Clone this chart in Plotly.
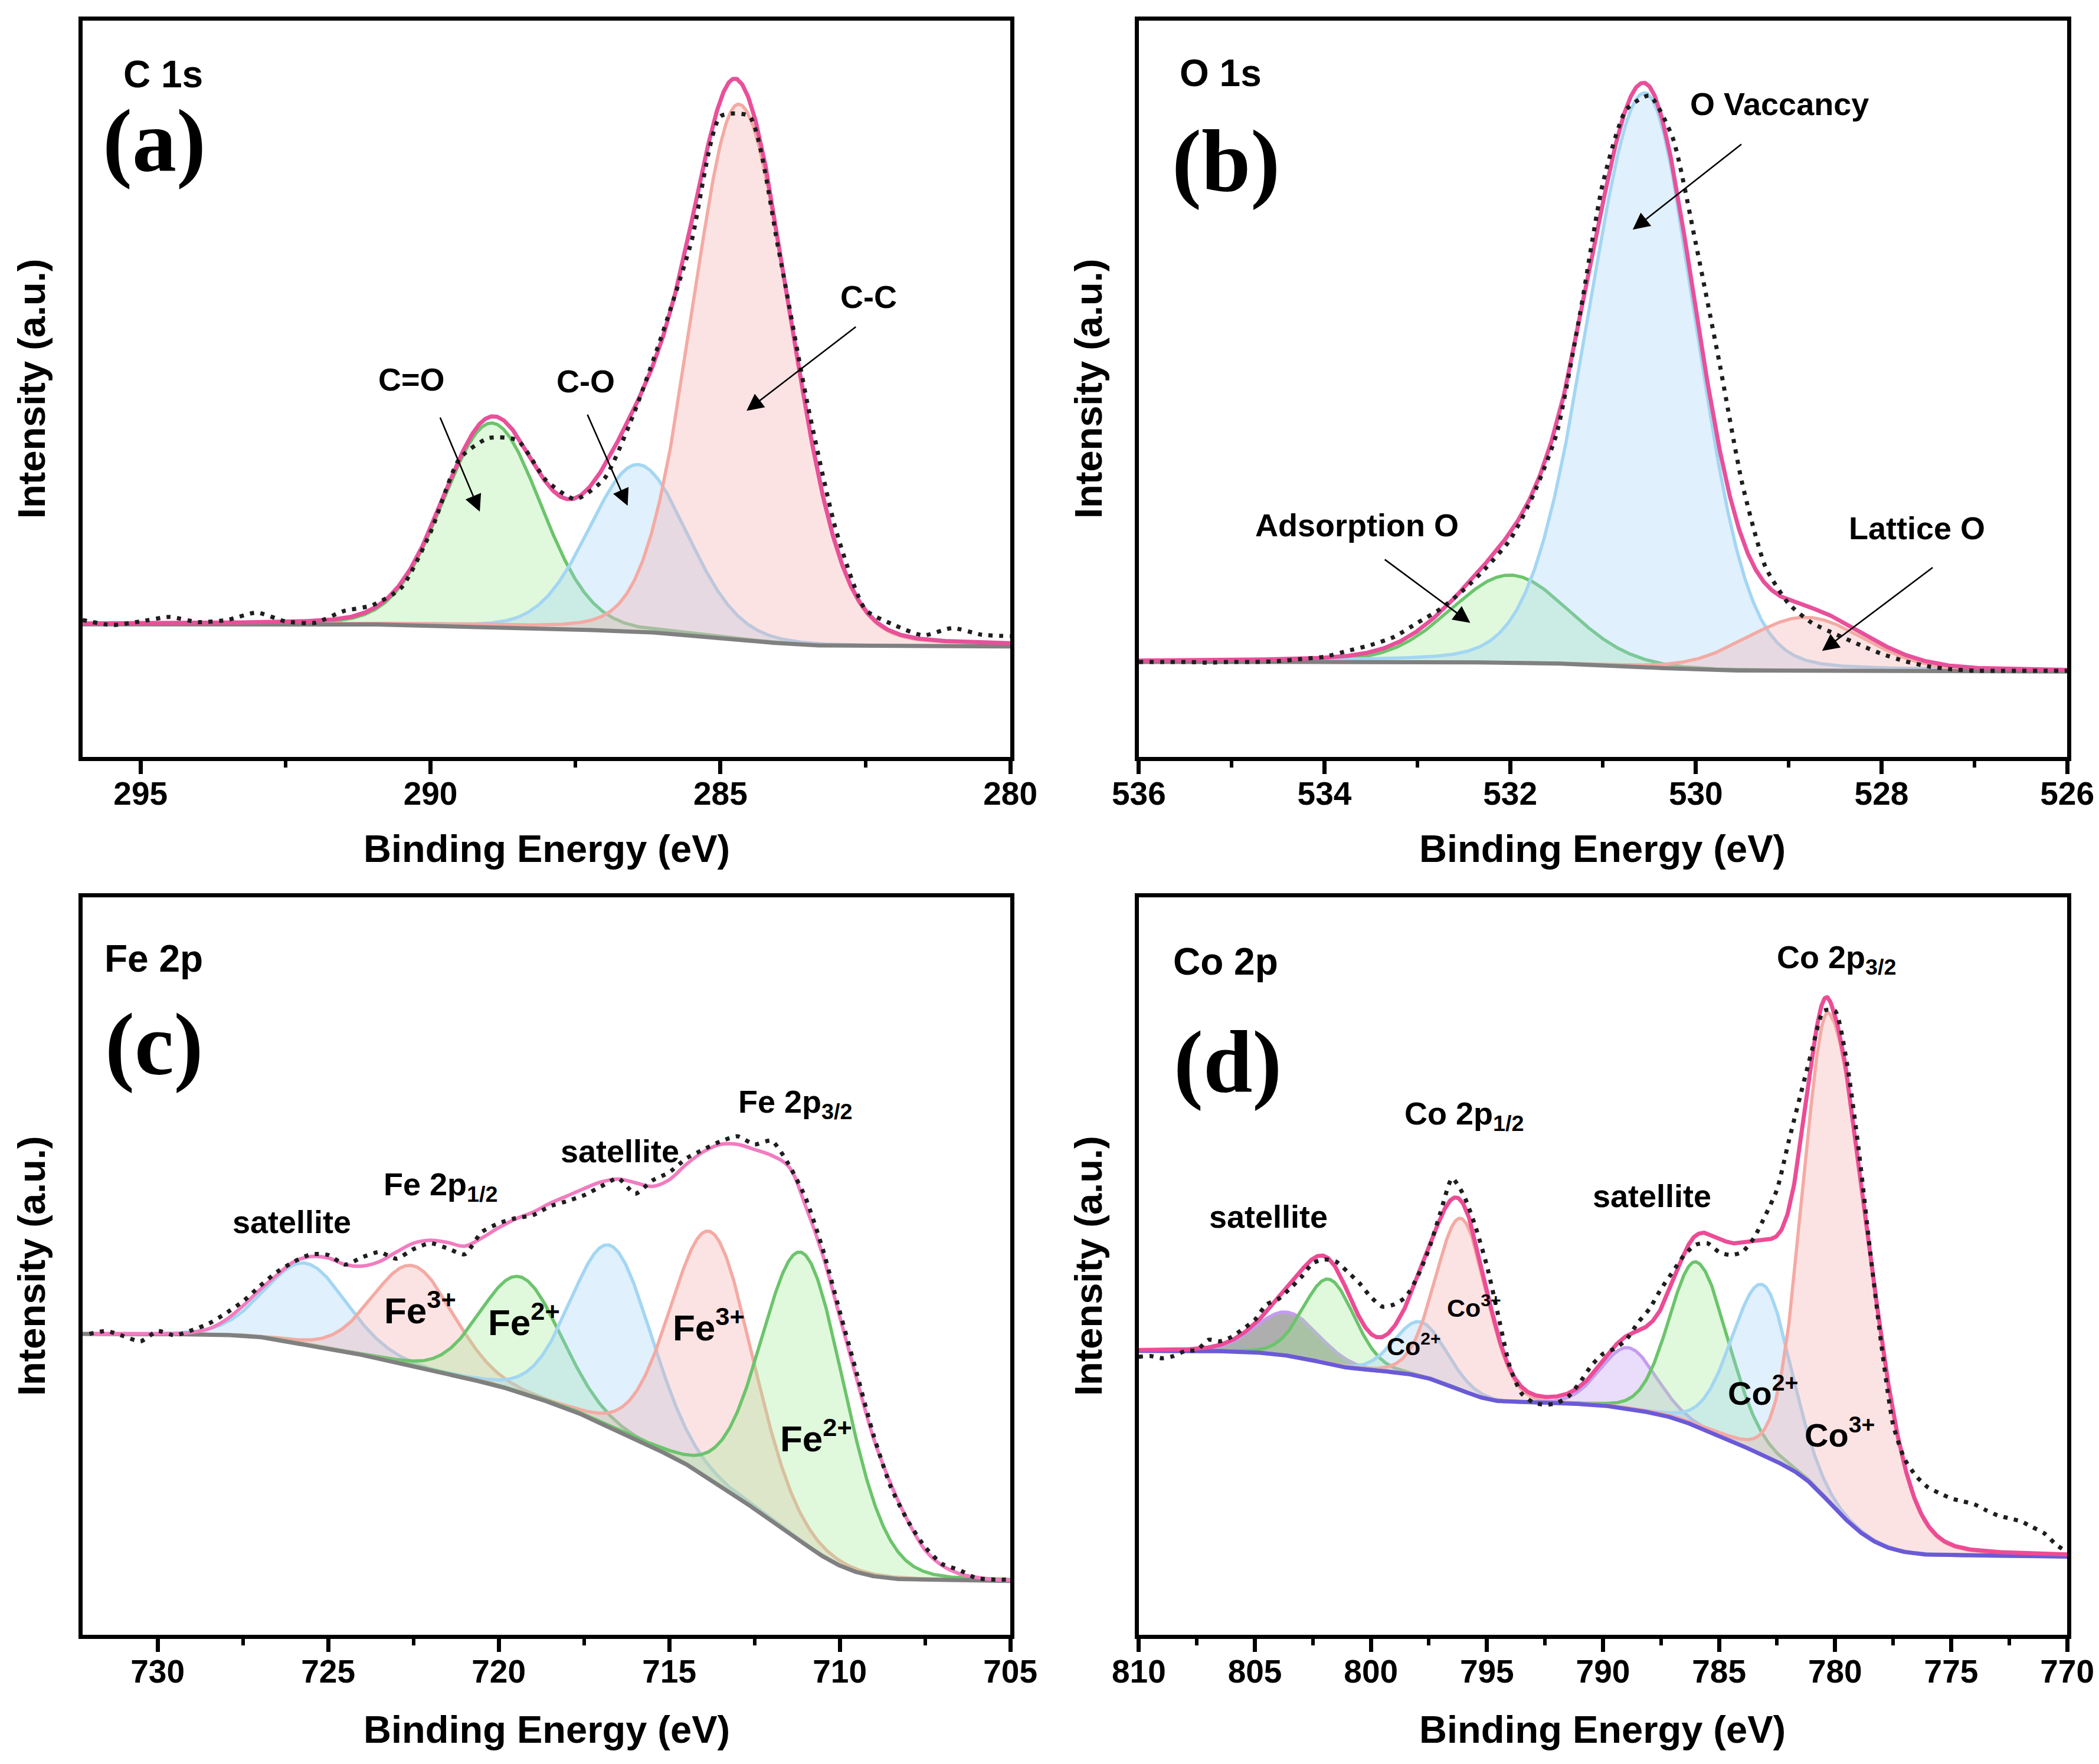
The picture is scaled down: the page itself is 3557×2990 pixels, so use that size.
import numpy as np
import plotly.graph_objects as go

FIG_W, FIG_H = 3557, 2990

# ===================== Panel (a) C 1s =====================
a_be = [296.0, 295.5, 295.0, 294.5, 294.0, 293.5, 293.0, 292.5, 292.0, 291.5,
        291.0, 290.5, 290.0, 289.5, 289.0, 288.5, 288.0, 287.5, 287.0, 286.5,
        286.0, 285.5, 285.0, 284.5, 284.0, 283.5, 283.0, 282.5, 282.0, 281.5,
        281.0, 280.5, 280.0]
a_counts = [18.6, 17.9, 18.4, 19.0, 18.3, 18.6, 19.6, 18.4, 18.2, 19.8,
            20.6, 23.0, 30.5, 40.5, 43.3, 43.0, 37.5, 35.0, 37.8, 46.5,
            57.5, 70.0, 87.0, 87.0, 69.0, 48.0, 30.6, 20.0, 17.9, 16.5,
            17.5, 16.6, 16.4]
a_peak_label = ["C=O", "C-O", "C-C"]
a_peak_center = [288.94, 286.42, 284.68]
a_peak_height = [27.7, 22.7, 72.7]
a_peak_hwhm_high = [1.0, 1.0, 0.95]
a_peak_hwhm_low = [1.0, 1.0, 1.05]
a_bg_levels = [18.0, 15.0]          # high-BE end, low-BE end

# ===================== Panel (b) O 1s =====================
b_be = [536.0, 535.75, 535.5, 535.25, 535.0, 534.75, 534.5, 534.25, 534.0, 533.75,
        533.5, 533.25, 533.0, 532.75, 532.5, 532.25, 532.0, 531.75, 531.5, 531.25,
        531.0, 530.75, 530.5, 530.25, 530.0, 529.75, 529.5, 529.25, 529.0, 528.75,
        528.5, 528.25, 528.0, 527.75, 527.5, 527.25, 527.0, 526.75, 526.5, 526.25,
        526.0]
b_counts = [12.9, 12.9, 12.9, 12.8, 12.9, 12.9, 13.0, 13.3, 13.6, 14.4,
            15.2, 16.3, 18.2, 20.1, 22.7, 25.8, 29.5, 35.6, 43.9, 60.0,
            78.0, 87.9, 89.8, 84.1, 69.7, 53.8, 37.1, 25.8, 20.8, 18.2,
            16.7, 15.3, 14.0, 13.0, 12.3, 11.9, 11.7, 11.7, 11.7, 11.7,
            11.7]
b_peak_label = ["Adsorption O", "O Vaccancy", "Lattice O"]
b_peak_center = [532.0, 530.55, 528.82]
b_peak_height = [11.9, 78.0, 7.3]
b_peak_hwhm_high = [0.75, 0.72, 0.75]
b_peak_hwhm_low = [0.75, 0.65, 0.75]
b_bg_levels = [12.9, 11.6]

# ===================== Panel (c) Fe 2p =====================
c_be = [732.0, 731.5, 731.0, 730.5, 730.0, 729.5, 729.0, 728.5, 728.0, 727.5,
        727.0, 726.5, 726.0, 725.5, 725.0, 724.5, 724.0, 723.5, 723.0, 722.5,
        722.0, 721.5, 721.0, 720.5, 720.0, 719.5, 719.0, 718.5, 718.0, 717.5,
        717.0, 716.5, 716.0, 715.5, 715.0, 714.5, 714.0, 713.5, 713.0, 712.5,
        712.0, 711.5, 711.0, 710.5, 710.0, 709.5, 709.0, 708.5, 708.0, 707.5,
        707.0, 706.5, 706.0, 705.5, 705.0]
c_counts = [40.8, 41.2, 40.5, 39.8, 41.2, 40.6, 41.3, 42.2, 43.6, 45.2,
            47.3, 49.2, 50.6, 51.6, 51.5, 50.2, 51.2, 51.9, 51.0, 52.3,
            53.1, 52.4, 51.6, 54.6, 55.8, 56.5, 56.9, 58.1, 58.8, 59.6,
            60.8, 61.9, 59.8, 61.6, 62.7, 64.6, 65.8, 66.9, 67.6, 66.5,
            67.0, 63.8, 59.2, 52.3, 43.8, 35.4, 26.9, 20.0, 15.4, 11.9,
            9.6, 8.8, 7.7, 7.5, 7.5]
c_envelope = [40.8, 40.8, 40.8, 40.8, 40.8, 40.8, 41.0, 41.5, 42.7, 44.6,
              46.8, 48.8, 50.6, 51.3, 51.1, 50.2, 50.0, 50.6, 51.9, 53.1,
              53.5, 53.2, 52.7, 53.8, 55.2, 56.4, 57.3, 58.5, 59.5, 60.5,
              61.4, 61.8, 61.3, 60.8, 61.7, 63.8, 65.5, 66.5, 66.5, 65.8,
              65.0, 63.5, 58.1, 51.5, 43.1, 34.6, 26.5, 20.4, 15.4, 11.5,
              9.4, 8.3, 7.8, 7.5, 7.4]
c_peak_label = ["satellite", "Fe3+", "Fe2+", "satellite", "Fe3+", "Fe2+"]
c_peak_center = [725.64, 722.5, 719.35, 716.7, 713.75, 711.06]
c_peak_height = [11.0, 13.6, 15.7, 24.7, 33.6, 39.3]
c_peak_hwhm_high = [1.4, 1.4, 1.4, 1.4, 1.42, 1.45]
c_peak_hwhm_low = [1.4, 1.4, 1.4, 1.4, 1.42, 1.45]
c_bg_levels = [40.8, 7.3]

# ===================== Panel (d) Co 2p =====================
d_be = [810.0, 809.5, 809.0, 808.5, 808.0, 807.5, 807.0, 806.5, 806.0, 805.5,
        805.0, 804.5, 804.0, 803.5, 803.0, 802.5, 802.0, 801.5, 801.0, 800.5,
        800.0, 799.5, 799.0, 798.5, 798.0, 797.5, 797.0, 796.5, 796.0, 795.5,
        795.0, 794.5, 794.0, 793.5, 793.0, 792.5, 792.0, 791.5, 791.0, 790.5,
        790.0, 789.5, 789.0, 788.5, 788.0, 787.5, 787.0, 786.5, 786.0, 785.5,
        785.0, 784.5, 784.0, 783.5, 783.0, 782.5, 782.0, 781.5, 781.0, 780.5,
        780.0, 779.5, 779.0, 778.5, 778.0, 777.5, 777.0, 776.5, 776.0, 775.5,
        775.0, 774.5, 774.0, 773.5, 773.0, 772.5, 772.0, 771.5, 771.0, 770.5,
        770.0]
d_counts = [37.7, 37.8, 37.5, 37.8, 38.5, 38.6, 40.0, 39.8, 40.4, 41.5,
            42.7, 44.8, 45.5, 46.9, 48.5, 50.4, 50.9, 50.6, 49.2, 47.7,
            45.8, 44.5, 44.8, 45.8, 48.5, 52.3, 57.3, 61.9, 59.6, 55.4,
            50.0, 43.1, 36.2, 32.7, 31.5, 31.2, 31.4, 32.3, 34.2, 36.5,
            38.1, 38.8, 40.0, 42.3, 44.2, 46.9, 49.2, 51.5, 52.9, 53.1,
            51.9, 51.5, 51.9, 53.8, 56.9, 60.4, 66.9, 73.1, 79.2, 84.6,
            84.6, 77.7, 66.2, 52.3, 39.2, 28.5, 23.8, 21.5, 20.0, 19.2,
            18.5, 18.1, 17.7, 16.9, 16.2, 15.8, 15.4, 14.6, 13.8, 12.3,
            11.2]
d_peak_label = ["satellite", "satellite", "Co2+", "Co3+", "satellite", "satellite", "Co2+", "Co3+"]
d_peak_center = [803.6, 801.8, 797.86, 796.1, 788.9, 785.95, 783.1, 780.25]
d_peak_height = [5.9, 11.5, 7.4, 23.3, 8.3, 22.3, 23.1, 66.3]
d_peak_hwhm_high = [1.6, 1.3, 1.3, 1.3, 1.4, 1.4, 1.6, 1.3]
d_peak_hwhm_low = [1.6, 1.3, 1.3, 1.3, 1.4, 1.6, 1.4, 2.0]
d_bg_levels = [38.5, 10.6]

# ===================== styles =====================
LINE = {
    "green": "#6cc46c", "blue": "#a3d6f3", "red": "#f4aaa4",
    "violet": "#c39cf0", "greyviolet": "#c39cf0",
}
FILL = {
    "green": "rgba(160,238,150,0.33)", "blue": "rgba(160,210,245,0.33)",
    "red": "rgba(245,170,170,0.33)", "violet": "rgba(200,170,245,0.40)",
    "greyviolet": "rgba(120,120,120,0.60)",
}
FONT = "Liberation Sans, Arial, sans-serif"
SERIF = "Liberation Serif, Times New Roman, serif"


def peak_shape(x, center, height, hw_high, hw_low, eta=0.1):
    hw = np.where(x >= center, hw_high, hw_low)
    t = (x - center) / hw
    g = np.exp(-np.log(2) * t ** 2)
    l = 1.0 / (1.0 + t ** 2)
    return height * ((1 - eta) * g + eta * l)


def shirley(xs, peaks_total, level_high, level_low):
    inc = (peaks_total[1:] + peaks_total[:-1]) / 2 * np.diff(xs)
    cum = np.concatenate([[0.0], np.cumsum(inc)])
    return level_low + (level_high - level_low) * cum / cum[-1]


panels = [
    dict(n="", be=a_be, counts=a_counts, env=None, c=a_peak_center, h=a_peak_height,
         hh=a_peak_hwhm_high, hl=a_peak_hwhm_low, bg=a_bg_levels,
         colors=["green", "blue", "red"], xr=[296.0, 280.0], dtick=5, minor=2.5,
         env_color="#e8509a", bg_color="#808080",
         xdom=[0.0371, 0.4791], ydom=[0.5736, 0.9910]),
    dict(n="2", be=b_be, counts=b_counts, env=None, c=b_peak_center, h=b_peak_height,
         hh=b_peak_hwhm_high, hl=b_peak_hwhm_low, bg=b_bg_levels,
         colors=["green", "blue", "red"], xr=[536.0, 526.0], dtick=2, minor=1,
         env_color="#e8509a", bg_color="#808080",
         xdom=[0.5403, 0.9826], ydom=[0.5736, 0.9910]),
    dict(n="3", be=c_be, counts=c_counts, env=c_envelope, c=c_peak_center, h=c_peak_height,
         hh=c_peak_hwhm_high, hl=c_peak_hwhm_low, bg=c_bg_levels,
         colors=["blue", "red", "green", "blue", "red", "green"], xr=[732.2, 705.0],
         dtick=5, minor=2.5, env_color="#f27cc0", bg_color="#808080",
         xdom=[0.0371, 0.4791], ydom=[0.0759, 0.4940]),
    dict(n="4", be=d_be, counts=d_counts, env=None, c=d_peak_center, h=d_peak_height,
         hh=d_peak_hwhm_high, hl=d_peak_hwhm_low, bg=d_bg_levels,
         colors=["greyviolet", "green", "blue", "red", "violet", "green", "blue", "red"],
         xr=[810.0, 770.0], dtick=5, minor=2.5, env_color="#ec4c95", bg_color="#6a5ad8",
         xdom=[0.5403, 0.9826], ydom=[0.0759, 0.4940]),
]

fig = go.Figure()
layout_axes = {}

for p in panels:
    xa, ya = "x" + p["n"], "y" + p["n"]
    lo, hi = min(p["xr"]), max(p["xr"])
    xs = np.linspace(lo, hi, 1400)
    comps = [peak_shape(xs, c, h, a, b) for c, h, a, b in zip(p["c"], p["h"], p["hh"], p["hl"])]
    total = np.sum(comps, axis=0)
    bg = shirley(xs, total, p["bg"][0], p["bg"][1])
    for comp, col in zip(comps, p["colors"]):
        fig.add_trace(go.Scatter(x=xs, y=bg, mode="lines", line=dict(width=0, color="rgba(0,0,0,0)"),
                                 xaxis=xa, yaxis=ya, showlegend=False, hoverinfo="skip"))
        fig.add_trace(go.Scatter(x=xs, y=bg + comp, mode="lines", fill="tonexty",
                                 fillcolor=FILL[col], line=dict(width=5.5, color=LINE[col]),
                                 xaxis=xa, yaxis=ya, showlegend=False))
    fig.add_trace(go.Scatter(x=xs, y=bg, mode="lines", line=dict(width=7, color=p["bg_color"]),
                             xaxis=xa, yaxis=ya, showlegend=False))
    if p["env"] is None:
        fig.add_trace(go.Scatter(x=xs, y=bg + total, mode="lines",
                                 line=dict(width=7, color=p["env_color"]),
                                 xaxis=xa, yaxis=ya, showlegend=False))
    else:
        fig.add_trace(go.Scatter(x=p["be"], y=p["env"], mode="lines",
                                 line=dict(width=6, color=p["env_color"], shape="spline", smoothing=1.0),
                                 xaxis=xa, yaxis=ya, showlegend=False))
    fig.add_trace(go.Scatter(x=p["be"], y=p["counts"], mode="lines",
                             line=dict(width=7, color="#1e1e1e", dash="7px,11px", shape="spline", smoothing=0.6),
                             xaxis=xa, yaxis=ya, showlegend=False))

    layout_axes["xaxis" + p["n"]] = dict(
        domain=p["xdom"], anchor=ya, range=p["xr"], showgrid=False, zeroline=False,
        showline=True, linewidth=7, linecolor="black", mirror=True,
        ticks="outside", ticklen=22, tickwidth=7, tickcolor="black",
        tick0=0, dtick=p["dtick"], automargin=False, ticklabelstandoff=-14,
        minor=dict(ticks="outside", ticklen=11, tickwidth=6, tickcolor="black", tick0=0, dtick=p["minor"]),
        tickfont=dict(family=FONT, size=55, color="black", weight="bold"),
    )
    layout_axes["yaxis" + p["n"]] = dict(
        domain=p["ydom"], anchor=xa, range=[0, 100], showgrid=False, zeroline=False,
        showline=True, linewidth=7, linecolor="black", mirror=True,
        ticks="", showticklabels=False, automargin=False,
    )

ann = []


def txt(xref, yref, x, y, text, size, anchor="center", family=FONT):
    ann.append(dict(xref=xref, yref=yref, x=x, y=y, text=text, showarrow=False,
                    xanchor=anchor, yanchor="middle",
                    font=dict(family=family, size=size, color="black", weight="bold")))


def arrow(xref, yref, x0, y0, x1, y1):
    ann.append(dict(xref=xref, yref=yref, axref=xref, ayref=yref, x=x1, y=y1, ax=x0, ay=y0,
                    text="", showarrow=True, arrowhead=2, arrowsize=2.2, arrowwidth=2.6,
                    arrowcolor="black", standoff=0, startstandoff=0))


# axis titles
for xc, yc in [(0.2581, 0.5217), (0.7613, 0.5217), (0.2581, 0.0224), (0.7613, 0.0224)]:
    txt("paper", "paper", xc, yc, "Binding Energy (eV)", 65)
for xc, yc in [(0.0130, 0.7823), (0.5165, 0.7823), (0.0130, 0.2850), (0.5165, 0.2850)]:
    ann.append(dict(xref="paper", yref="paper", x=xc, y=yc, text="Intensity (a.u.)",
                    showarrow=False, textangle=-90, xanchor="center", yanchor="middle",
                    font=dict(family=FONT, size=65, color="black", weight="bold")))

# panel (a)
txt("x", "y", 295.32, 92.7, "C 1s", 64, "left")
txt("x", "y", 294.76, 83.7, "(a)", 150, family=SERIF)
txt("x", "y", 290.33, 51.3, "C=O", 54)
txt("x", "y", 287.32, 51.0, "C-O", 54)
txt("x", "y", 282.44, 62.5, "C-C", 54)
arrow("x", "y", 289.84, 46.2, 289.15, 33.3)
arrow("x", "y", 287.30, 46.6, 286.60, 34.1)
arrow("x", "y", 282.65, 58.5, 284.55, 47.0)

# panel (b)
txt("x2", "y2", 535.57, 92.9, "O 1s", 64, "left")
txt("x2", "y2", 535.06, 80.9, "(b)", 150, family=SERIF)
txt("x2", "y2", 529.1, 88.7, "O Vaccancy", 54)
txt("x2", "y2", 533.65, 31.5, "Adsorption O", 54)
txt("x2", "y2", 527.62, 31.1, "Lattice O", 54)
arrow("x2", "y2", 529.5, 83.3, 530.68, 71.6)
arrow("x2", "y2", 533.36, 26.9, 532.43, 18.2)
arrow("x2", "y2", 527.44, 25.8, 528.64, 14.4)

# panel (c)
txt("x3", "y3", 731.6, 91.7, "Fe 2p", 64, "left")
txt("x3", "y3", 730.1, 80.0, "(c)", 150, family=SERIF)
txt("x3", "y3", 726.07, 56.0, "satellite", 54)
txt("x3", "y3", 721.7, 60.8, "Fe 2p<sub>1/2</sub>", 54)
txt("x3", "y3", 716.44, 65.6, "satellite", 54)
txt("x3", "y3", 711.3, 72.0, "Fe 2p<sub>3/2</sub>", 54)
txt("x3", "y3", 722.3, 44.3, "Fe<sup>3+</sup>", 62)
txt("x3", "y3", 719.25, 42.7, "Fe<sup>2+</sup>", 62)
txt("x3", "y3", 713.85, 42.0, "Fe<sup>3+</sup>", 62)
txt("x3", "y3", 710.7, 27.0, "Fe<sup>2+</sup>", 62)

# panel (d)
txt("x4", "y4", 808.56, 91.3, "Co 2p", 64, "left")
txt("x4", "y4", 806.16, 77.6, "(d)", 150, family=SERIF)
txt("x4", "y4", 804.42, 56.7, "satellite", 54)
txt("x4", "y4", 795.98, 70.4, "Co 2p<sub>1/2</sub>", 54)
txt("x4", "y4", 787.89, 59.5, "satellite", 54)
txt("x4", "y4", 779.94, 91.6, "Co 2p<sub>3/2</sub>", 54)
txt("x4", "y4", 795.55, 44.6, "Co<sup>3+</sup>", 43)
txt("x4", "y4", 798.15, 39.4, "Co<sup>2+</sup>", 43)
txt("x4", "y4", 783.12, 33.1, "Co<sup>2+</sup>", 56)
txt("x4", "y4", 779.8, 27.4, "Co<sup>3+</sup>", 56)

fig.update_layout(
    width=FIG_W, height=FIG_H, margin=dict(l=0, r=0, t=0, b=0),
    paper_bgcolor="white", plot_bgcolor="white", showlegend=False,
    annotations=ann, **layout_axes,
)

fig.write_html("out.html")
